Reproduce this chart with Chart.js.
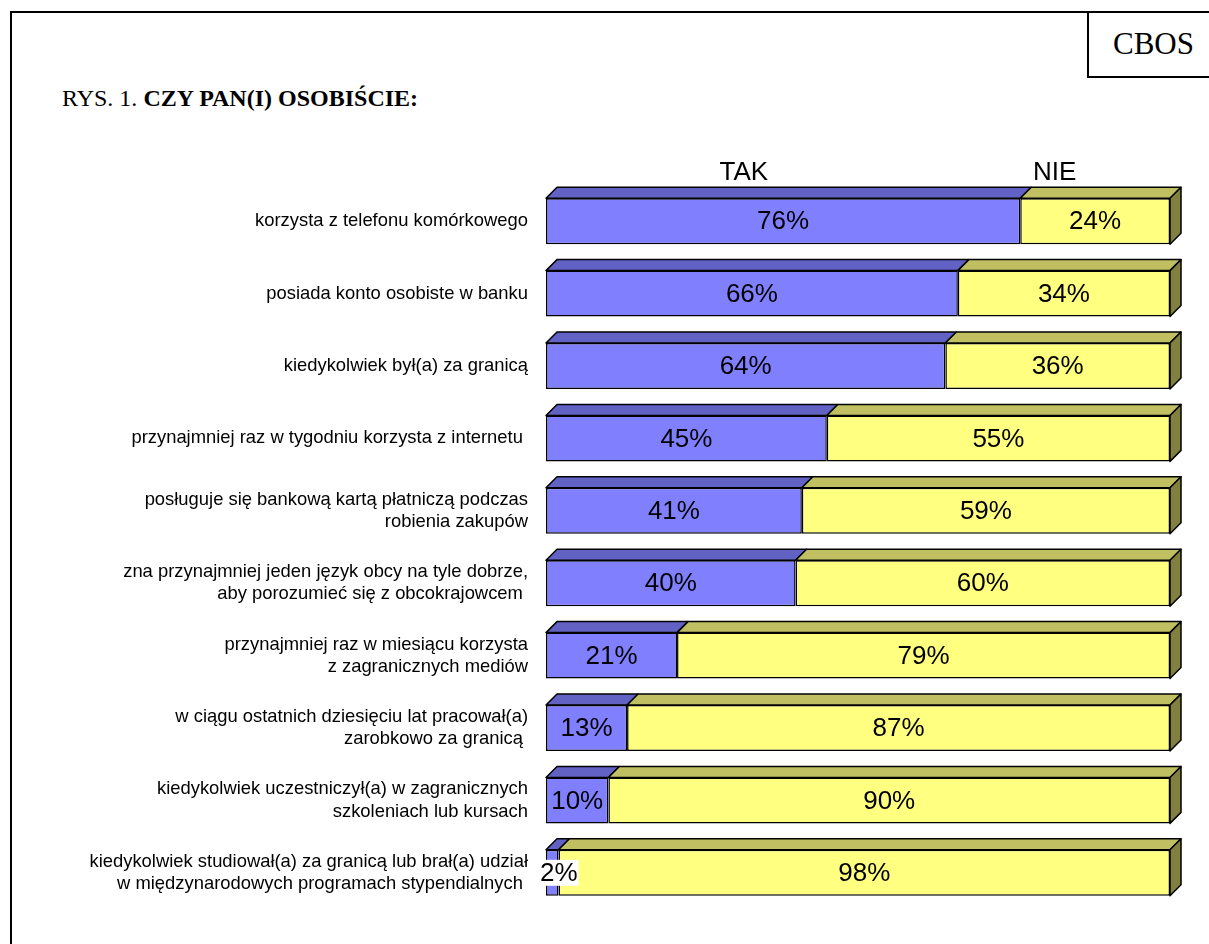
<!DOCTYPE html>
<html>
<head>
<meta charset="utf-8">
<script src="https://cdn.jsdelivr.net/npm/chart.js@4/dist/chart.umd.min.js"></script>
<style>
  html, body { margin: 0; padding: 0; background: #fff; }
  body { width: 1209px; height: 944px; position: relative; overflow: hidden; }
  #frame { position: absolute; left: 10px; top: 11px; width: 1210px; height: 940px;
           border-left: 2px solid #000; border-top: 2px solid #000; box-sizing: border-box; }
  #cbos { position: absolute; left: 1087px; top: 11px; width: 130px; height: 67px;
          border-left: 2px solid #000; border-bottom: 2px solid #000; box-sizing: border-box; }
  #cbos span { position: absolute; left: 24px; top: 18px; font-family: "Liberation Serif", "Times New Roman", serif;
          font-size: 31px; line-height: 30px; color: #000; white-space: nowrap; }
  #title { position: absolute; left: 62px; top: 86px; font-family: "Liberation Serif", "Times New Roman", serif;
           font-size: 24px; line-height: 24px; color: #000; white-space: nowrap; }
  #wrap { position: absolute; left: 0; top: 0; width: 1209px; height: 944px; }
</style>
</head>
<body>
<div id="frame"></div>
<div id="cbos"><span>CBOS</span></div>
<div id="title">RYS. 1. <b>CZY PAN(I) OSOBIŚCIE:</b></div>
<div id="wrap"><canvas id="c" width="1209" height="944"></canvas></div>
<script>
const categories = [
  "korzysta z telefonu komórkowego",
  "posiada konto osobiste w banku",
  "kiedykolwiek był(a) za granicą",
  "przynajmniej raz w tygodniu korzysta z internetu ",
  ["posługuje się bankową kartą płatniczą podczas", "robienia zakupów"],
  ["zna przynajmniej jeden język obcy na tyle dobrze,", "aby porozumieć się z obcokrajowcem "],
  ["przynajmniej raz w miesiącu korzysta", "z zagranicznych mediów"],
  ["w ciągu ostatnich dziesięciu lat pracował(a)", "zarobkowo za granicą "],
  ["kiedykolwiek uczestniczył(a) w zagranicznych", "szkoleniach lub kursach"],
  ["kiedykolwiek studiował(a) za granicą lub brał(a) udział", "w międzynarodowych programach stypendialnych "]
];
const seriesNames = ["TAK", "NIE"];
const tak = [76, 66, 64, 45, 41, 40, 21, 13, 10, 2];
const nie = [24, 34, 36, 55, 59, 60, 79, 87, 90, 98];

const D = 11; // 3D depth in px
const frontColors = ["#8080FF", "#FFFF80"];
const topColors = ["#6262C4", "#C0C062"];
const sideColors = ["#50508F", "#828040"];

const threeD = {
  id: 'threeD',
  afterDatasetsDraw(chart) {
    const ctx = chart.ctx;
    const nDs = chart.data.datasets.length;
    ctx.save();
    ctx.lineWidth = 1.5;
    ctx.strokeStyle = "#000";
    ctx.lineJoin = "round";
    for (let di = 0; di < nDs; di++) {
      const meta = chart.getDatasetMeta(di);
      meta.data.forEach((el) => {
        const p = el.getProps(['x', 'y', 'base', 'height'], true);
        const top = p.y - p.height / 2, bottom = p.y + p.height / 2;
        const l = Math.min(p.base, p.x), r = Math.max(p.base, p.x);
        ctx.beginPath();
        ctx.moveTo(l, top); ctx.lineTo(r, top); ctx.lineTo(r + D, top - D); ctx.lineTo(l + D, top - D); ctx.closePath();
        ctx.fillStyle = topColors[di]; ctx.fill(); ctx.stroke();
        if (di === nDs - 1) {
          ctx.beginPath();
          ctx.moveTo(r, top); ctx.lineTo(r + D, top - D); ctx.lineTo(r + D, bottom - D); ctx.lineTo(r, bottom); ctx.closePath();
          ctx.fillStyle = sideColors[di]; ctx.fill(); ctx.stroke();
        }
      });
    }
    ctx.font = "26px 'Liberation Sans', Arial, sans-serif";
    ctx.textBaseline = "middle";
    ctx.textAlign = "center";
    for (let di = 0; di < nDs; di++) {
      const meta = chart.getDatasetMeta(di);
      const vals = chart.data.datasets[di].data;
      meta.data.forEach((el, i) => {
        const p = el.getProps(['x', 'y', 'base', 'height'], true);
        const l = Math.min(p.base, p.x), r = Math.max(p.base, p.x);
        const txt = vals[i] + "%";
        const w = ctx.measureText(txt).width;
        let cx = (l + r) / 2;
        if (w + 4 > r - l) {
          cx = l - 6 + w / 2;
          ctx.fillStyle = "#fff";
          ctx.fillRect(cx - w / 2 - 1, p.y - 13, w + 2, 26);
        }
        ctx.fillStyle = "#000";
        ctx.fillText(txt, cx, p.y + 1);
      });
    }
    const xs = chart.scales.x;
    const first = chart.getDatasetMeta(0).data[0].getProps(['y', 'height'], true);
    ctx.font = "26px 'Liberation Sans', Arial, sans-serif";
    ctx.textBaseline = "alphabetic";
    const headerAt = [31.7, 81.5];
    seriesNames.forEach((n, k) => {
      ctx.fillText(n, xs.getPixelForValue(headerAt[k]), first.y - first.height / 2 - 18);
    });
    ctx.restore();
  }
};

new Chart(document.getElementById('c'), {
  type: 'bar',
  data: {
    labels: categories,
    datasets: [
      { label: seriesNames[0], data: tak, backgroundColor: frontColors[0], borderColor: "#000", borderWidth: 1.5, borderSkipped: false },
      { label: seriesNames[1], data: nie, backgroundColor: frontColors[1], borderColor: "#000", borderWidth: 1.5, borderSkipped: false }
    ]
  },
  options: {
    indexAxis: 'y',
    responsive: false,
    animation: false,
    devicePixelRatio: 1,
    layout: { padding: { left: 0, right: 39, top: 185, bottom: 35 } },
    plugins: { legend: { display: false }, tooltip: { enabled: false }, title: { display: false } },
    datasets: { bar: { categoryPercentage: 1, barPercentage: 0.635 } },
    scales: {
      x: { stacked: true, min: 0, max: 100, display: false },
      y: {
        stacked: true,
        grid: { display: false, drawTicks: false },
        border: { display: false },
        ticks: { color: "#000", padding: 18, font: { family: "'Liberation Sans', Arial, sans-serif", size: 18.4, lineHeight: 1.2 } },
        afterFit(scale) { scale.width = 546; }
      }
    }
  },
  plugins: [threeD]
});
</script>
</body>
</html>
